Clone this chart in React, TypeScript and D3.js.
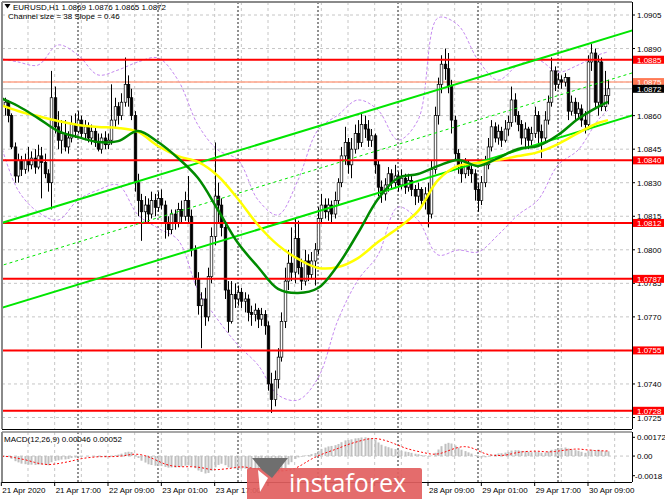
import React, { useEffect } from 'react';
import * as d3 from 'd3';

// ---------- DATA (prices in pips: price * 10000) ----------
const firstOpen = 10866;
const closes = [
  10868, 10864, 10866, 10860, 10846, 10833, 10840, 10836, 10840, 10838,
  10841, 10837, 10842, 10839, 10834, 10830, 10868, 10855, 10849, 10852,
  10846, 10850, 10856, 10853, 10858, 10852, 10855, 10850, 10853, 10848,
  10845, 10850, 10847, 10849, 10858, 10864, 10860, 10866, 10874, 10868,
  10860, 10830, 10822, 10817, 10820, 10816, 10822, 10819, 10823, 10820,
  10812, 10809, 10816, 10812, 10818, 10815, 10822, 10815, 10800, 10787,
  10775, 10778, 10770, 10788, 10806, 10824, 10820, 10810, 10782, 10768,
  10780, 10778, 10781, 10777, 10778, 10772, 10771, 10773, 10769, 10771,
  10766, 10740, 10733, 10742, 10752, 10768, 10786, 10794, 10790, 10805,
  10792, 10786, 10795, 10789, 10795, 10800, 10814, 10820, 10817, 10820,
  10816, 10822, 10830, 10842, 10848, 10838, 10845, 10852, 10848, 10856,
  10854, 10849, 10851, 10838, 10828, 10825, 10829, 10834, 10830, 10833,
  10829, 10832, 10828, 10831, 10827, 10824, 10827, 10822, 10825, 10816,
  10836, 10860, 10874, 10883, 10881, 10873, 10858, 10843, 10838, 10834,
  10838, 10836, 10834, 10827, 10822, 10830, 10838, 10846, 10855, 10850,
  10853, 10849, 10854, 10857, 10867, 10860, 10856, 10850, 10854, 10849,
  10852, 10860, 10853, 10850, 10858, 10866, 10880, 10874, 10876, 10875,
  10877, 10862, 10866, 10861, 10863, 10858, 10856, 10884, 10888, 10866,
  10884, 10864, 10869, 10872,
];
const highs = [
  10870, 10869, 10868, 10867, 10861, 10848, 10843, 10842, 10843, 10846,
  10844, 10845, 10847, 10846, 10843, 10836, 10880, 10873, 10862, 10858,
  10858, 10853, 10860, 10861, 10862, 10860, 10858, 10857, 10856, 10855,
  10852, 10852, 10853, 10852, 10874, 10868, 10866, 10870, 10886, 10878,
  10872, 10862, 10834, 10825, 10824, 10823, 10826, 10825, 10826, 10827,
  10822, 10815, 10818, 10818, 10821, 10822, 10826, 10833, 10818, 10802,
  10790, 10781, 10783, 10792, 10810, 10848, 10830, 10823, 10812, 10786,
  10786, 10785, 10784, 10783, 10781, 10780, 10775, 10776, 10774, 10774,
  10773, 10768, 10745, 10746, 10756, 10772, 10792, 10800, 10810, 10814,
  10813, 10796, 10800, 10798, 10799, 10803, 10819, 10825, 10823, 10823,
  10822, 10826, 10832, 10846, 10855, 10850, 10850, 10856, 10858, 10861,
  10860, 10858, 10854, 10852, 10840, 10831, 10832, 10837, 10836, 10838,
  10835, 10836, 10834, 10834, 10833, 10829, 10830, 10828, 10828, 10830,
  10840, 10864, 10877, 10887, 10890, 10888, 10876, 10860, 10845, 10840,
  10841, 10840, 10838, 10836, 10830, 10833, 10842, 10850, 10858, 10857,
  10856, 10855, 10858, 10860, 10873, 10870, 10862, 10858, 10857, 10855,
  10855, 10864, 10862, 10856, 10862, 10869, 10886, 10882, 10879, 10878,
  10879, 10877, 10869, 10868, 10866, 10865, 10862, 10887, 10892, 10890,
  10887, 10886, 10880, 10876,
];
const lows = [
  10863, 10862, 10860, 10857, 10845, 10830, 10830, 10833, 10834, 10835,
  10836, 10834, 10836, 10823, 10832, 10826, 10818, 10852, 10845, 10843,
  10844, 10843, 10848, 10850, 10852, 10850, 10849, 10848, 10847, 10846,
  10844, 10843, 10845, 10845, 10847, 10855, 10856, 10858, 10864, 10864,
  10858, 10826, 10815, 10804, 10812, 10812, 10814, 10815, 10817, 10818,
  10805, 10806, 10807, 10809, 10810, 10812, 10813, 10812, 10797, 10784,
  10771, 10756, 10766, 10768, 10785, 10802, 10812, 10806, 10778, 10763,
  10767, 10774, 10775, 10774, 10772, 10768, 10766, 10768, 10765, 10766,
  10762, 10737, 10727, 10730, 10738, 10750, 10765, 10782, 10786, 10785,
  10789, 10782, 10784, 10786, 10787, 10784, 10798, 10812, 10814, 10813,
  10812, 10814, 10820, 10828, 10838, 10834, 10832, 10843, 10845, 10846,
  10850, 10846, 10846, 10834, 10824, 10821, 10822, 10826, 10827, 10828,
  10826, 10827, 10825, 10826, 10824, 10820, 10821, 10819, 10818, 10810,
  10814, 10834, 10856, 10870, 10876, 10870, 10852, 10840, 10834, 10830,
  10832, 10833, 10830, 10822, 10817, 10820, 10828, 10836, 10844, 10848,
  10847, 10846, 10848, 10851, 10855, 10857, 10853, 10847, 10845, 10845,
  10846, 10850, 10846, 10841, 10848, 10856, 10864, 10871, 10872, 10872,
  10873, 10858, 10860, 10858, 10859, 10855, 10852, 10854, 10880, 10863,
  10860, 10862, 10862, 10865,
];

const lineBars = [0, 6, 12, 18, 24, 30, 36, 42, 48, 54, 60, 66, 72, 78, 84, 90, 96, 102, 108, 114, 120, 126, 132, 138, 144, 150, 156, 162, 168, 174, 180, 183];
const maGreen = [10868.3, 10864.3, 10858.9, 10853.1, 10850.4, 10848.2, 10848.6, 10853.1, 10848.2, 10841.0, 10832.1, 10817.8, 10803.0, 10792.3, 10782.5, 10780.7, 10782.9, 10793.2, 10807.5, 10822.7, 10832.1, 10833.9, 10837.5, 10840.2, 10837.5, 10841.0, 10845.1, 10846.4, 10851.3, 10858.5, 10863.9, 10866.1];
const maYellow = [10865.2, 10862.1, 10859.8, 10857.6, 10855.8, 10854.9, 10854.5, 10852.7, 10846.4, 10841.9, 10839.3, 10833.0, 10822.7, 10811.1, 10802.1, 10795.9, 10791.9, 10792.3, 10796.3, 10803.5, 10809.7, 10817.3, 10831.2, 10837.5, 10838.8, 10840.2, 10841.9, 10843.7, 10847.3, 10852.2, 10856.7, 10858.0];
const bandUpper = [10885.8, 10884.0, 10882.6, 10891.6, 10887.1, 10878.2, 10880.4, 10884.0, 10885.8, 10875.9, 10855.8, 10844.6, 10840.2, 10822.3, 10815.6, 10831.2, 10853.6, 10860.3, 10867.0, 10862.5, 10849.1, 10858.0, 10903.7, 10900.5, 10884.9, 10875.9, 10882.6, 10884.9, 10879.5, 10882.6, 10887.1, 10888.5];
const bandLower = [10851.3, 10826.7, 10816.9, 10813.3, 10822.3, 10826.7, 10829.0, 10815.6, 10809.7, 10804.4, 10782.0, 10768.6, 10757.4, 10748.5, 10735.1, 10732.8, 10742.7, 10768.6, 10786.5, 10797.7, 10819.1, 10813.3, 10797.7, 10799.9, 10799.0, 10806.6, 10815.6, 10822.3, 10837.9, 10844.6, 10858.0, 10862.5];

// channel (regression channel, pips at bar 0 and bar 192)
const channelBars = [0, 192];
const channelUpper = [10811.5, 10898.9];
const channelMiddle = [10792.5, 10879.9];
const channelLower = [10773.5, 10860.9];

const levels = [1.0885, 1.0840, 1.0812, 1.0787, 1.0755, 1.0728];
const askLevel = 1.0875;
const bidLevel = 1.0872;
const priceTicks = [1.0905, 1.0890, 1.0875, 1.0860, 1.0845, 1.0830, 1.0815, 1.0800, 1.0785, 1.0770, 1.0755, 1.0740, 1.0725];
// visible time labels (those under the watermark are not shown in the reference)
const timeLabelBars = [1, 17, 33, 49, 65, 129, 145, 161, 177];
const timeLabels = ['21 Apr 2020', '21 Apr 17:00', '22 Apr 09:00', '23 Apr 01:00', '23 Apr 17:00', '28 Apr 09:00', '29 Apr 01:00', '29 Apr 17:00', '30 Apr 09:00'];
const timeTickBars = [1, 17, 33, 49, 65, 81, 97, 113, 129, 145, 161, 177];
const daySepBars = [24, 48, 72, 96, 120, 144, 168];
const macdTicks = [0.00172, 0, -0.0018];
const macdTickLabels = ['0.00172', '0.00', '-0.0018'];
const titleText = 'EURUSD,H1  1.0869 1.0876 1.0865 1.0872';
const channelText = 'Channel size = 38 Slope = 0.46';
const macdText = 'MACD(12,26,9) 0.00046 0.00052';
const logoText = 'instaforex';

// ---------- LAYOUT ----------
const W = 665, H = 499;
const L = 2, R = 632, T = 2, B = 429;
const MT = 432, MB = 482;
const FONT = '"Liberation Sans", Arial, sans-serif';

function ema(v: number[], n: number) {
  const a = 2 / (n + 1);
  const out: number[] = [];
  v.forEach((d, i) => out.push(i === 0 ? d : a * d + (1 - a) * out[i - 1]));
  return out;
}

export default function App() {
  useEffect(() => { document.body.style.margin = '0'; }, []);

  const bars = closes.map((c, i) => {
    const o = i === 0 ? firstOpen : closes[i - 1];
    return {
      i, o: o / 1e4, c: c / 1e4,
      h: Math.max(highs[i], o, c) / 1e4,
      l: Math.min(lows[i], o, c) / 1e4,
    };
  });

  const x = d3.scaleLinear().domain([0, 183]).range([-2, 608]);
  const y = d3.scaleLinear().domain([1.0725, 1.0905]).range([417.5, 15]);
  const ym = d3.scaleLinear().domain([-0.0018, 0.00172]).range([475.7, 437.3]);

  const cl = bars.map(b => b.c);
  const e12 = ema(cl, 12), e26 = ema(cl, 26);
  const macd = cl.map((_, i) => e12[i] - e26[i]);
  const signal = macd.map((_, i) => d3.mean(macd.slice(Math.max(0, i - 8), i + 1)) as number);

  const smooth = (vals: number[]) =>
    d3.line<number>().x((_, i) => x(lineBars[i])).y(v => y(v / 1e4)).curve(d3.curveCatmullRom.alpha(0.5))(vals) || '';
  const chan = (vals: number[]) =>
    d3.line<number>().x((_, i) => x(channelBars[i])).y(v => y(v / 1e4))(vals) || '';
  const sigPath = d3.line<number>().x((_, i) => x(i)).y(v => ym(v))(signal) || '';

  const vGrid = d3.range(0, 24).map(k => 1.33 + k * 26.667).filter(v => v > L + 1 && v < R);
  const fmt = d3.format('.4f');
  const labelled = [...levels, askLevel, bidLevel];
  const visibleTicks = priceTicks.filter(p => !labelled.some(q => Math.abs(q - p) < 1e-6));

  return (
    <svg width={W} height={H} style={{ position: 'absolute', left: 0, top: 0, background: '#fff' }} fontFamily={FONT}>
      <defs>
        <clipPath id="main"><rect x={L} y={T} width={R - L} height={B - T} /></clipPath>
        <clipPath id="macd"><rect x={L} y={MT} width={R - L} height={MB - MT} /></clipPath>
      </defs>
      <rect x={0} y={0} width={W} height={H} fill="#fff" />

      <g clipPath="url(#main)">
        {priceTicks.map(p => (
          <line key={p} x1={L} x2={R} y1={y(p)} y2={y(p)} stroke="#c6c6c6" strokeDasharray="3,3" />
        ))}
        {vGrid.map(v => (
          <line key={v} x1={v} x2={v} y1={T} y2={B} stroke="#c6c6c6" strokeDasharray="3,3" />
        ))}
        {daySepBars.map(b => (
          <line key={b} x1={x(b)} x2={x(b)} y1={T} y2={B} stroke="#222" strokeDasharray="2,2" />
        ))}
        <path d={smooth(bandUpper)} fill="none" stroke="#c58af0" strokeWidth={1} strokeDasharray="3,2" />
        <path d={smooth(bandLower)} fill="none" stroke="#c58af0" strokeWidth={1} strokeDasharray="3,2" />
        <line x1={L} x2={R} y1={y(askLevel)} y2={y(askLevel)} stroke="#ffa58a" strokeWidth={1.5} />
        <line x1={L} x2={R} y1={y(bidLevel)} y2={y(bidLevel)} stroke="#bdbdbd" strokeWidth={1} />
        {bars.map(b => {
          const up = b.c >= b.o;
          const top = y(Math.max(b.o, b.c)), bot = y(Math.min(b.o, b.c));
          const cx = Math.round(x(b.i)) + 0.5;
          return (
            <g key={b.i}>
              <line x1={cx} x2={cx} y1={y(b.h)} y2={y(b.l)} stroke="#000" strokeWidth={1} />
              <rect x={cx - 1.3} y={top} width={2.6} height={Math.max(0.8, bot - top)}
                fill={up ? '#fff' : '#000'} stroke="#000" strokeWidth={0.7} />
            </g>
          );
        })}
        {levels.map(p => (
          <line key={p} x1={L} x2={R} y1={y(p)} y2={y(p)} stroke="#ff0000" strokeWidth={2} />
        ))}
        <path d={chan(channelUpper)} stroke="#00e600" strokeWidth={2} fill="none" />
        <path d={chan(channelLower)} stroke="#00e600" strokeWidth={2} fill="none" />
        <path d={chan(channelMiddle)} stroke="#00e600" strokeWidth={1} strokeDasharray="3,3" fill="none" />
        <path d={smooth(maYellow)} stroke="#ffff00" strokeWidth={2.5} fill="none" />
        <path d={smooth(maGreen)} stroke="#008a00" strokeWidth={2.5} fill="none" />
      </g>

      <line x1={L} x2={R} y1={T} y2={T} stroke="#8a8a8a" strokeWidth={2} />
      <line x1={L} x2={L} y1={T} y2={B} stroke="#8a8a8a" strokeWidth={2} />
      <line x1={R + 0.5} x2={R + 0.5} y1={T} y2={B} stroke="#000" />
      <line x1={L} x2={R} y1={B + 0.5} y2={B + 0.5} stroke="#000" />

      {priceTicks.map(p => (
        <line key={p} x1={R} x2={R + 3} y1={y(p)} y2={y(p)} stroke="#000" />
      ))}
      {visibleTicks.map(p => (
        <text key={p} x={637} y={y(p) + 3} fontSize={8} fill="#000">{fmt(p)}</text>
      ))}
      {levels.map(p => (
        <g key={p}>
          <rect x={633} y={y(p) - 4} width={31} height={8} fill="#ff0000" />
          <text x={637} y={y(p) + 3} fontSize={8} fill="#fff">{fmt(p)}</text>
        </g>
      ))}
      <rect x={633} y={y(askLevel) - 4} width={31} height={8} fill="#ff7a55" />
      <text x={637} y={y(askLevel) + 3} fontSize={8} fill="#fff">{fmt(askLevel)}</text>
      <rect x={633} y={y(bidLevel) - 4} width={31} height={8} fill="#000" />
      <text x={637} y={y(bidLevel) + 3} fontSize={8} fill="#fff">{fmt(bidLevel)}</text>

      <path d="M4.5,4 L10.5,4 L7.5,8.5 Z" fill="#000" />
      <text x={13} y={9.5} fontSize={8} fill="#000">{titleText}</text>
      <text x={8} y={18.5} fontSize={8} fill="#000">{channelText}</text>

      <g clipPath="url(#macd)">
        <line x1={L} x2={R} y1={ym(0)} y2={ym(0)} stroke="#c6c6c6" strokeDasharray="3,3" />
        {vGrid.map(v => (
          <line key={v} x1={v} x2={v} y1={MT} y2={MB} stroke="#c6c6c6" strokeDasharray="3,3" />
        ))}
        {daySepBars.map(b => (
          <line key={b} x1={x(b)} x2={x(b)} y1={MT} y2={MB} stroke="#222" strokeDasharray="2,2" />
        ))}
        {macd.map((m, i) => (
          <rect key={i} x={Math.round(x(i)) - 0.5} width={2}
            y={Math.min(ym(m), ym(0))} height={Math.abs(ym(m) - ym(0))} fill="#c0c0c0" />
        ))}
        <path d={sigPath} fill="none" stroke="#ff0000" strokeWidth={1} strokeDasharray="2,2" />
      </g>
      <text x={4} y={442} fontSize={8} fill="#000">{macdText}</text>
      <line x1={L} x2={R} y1={MT} y2={MT} stroke="#8a8a8a" strokeWidth={1.5} />
      <line x1={L} x2={L} y1={MT} y2={MB} stroke="#8a8a8a" strokeWidth={2} />
      <line x1={R + 0.5} x2={R + 0.5} y1={MT} y2={MB} stroke="#000" />
      <line x1={L} x2={R} y1={MB + 0.5} y2={MB + 0.5} stroke="#000" />
      {macdTicks.map((v, i) => (
        <g key={v}>
          <line x1={R} x2={R + 3} y1={ym(v)} y2={ym(v)} stroke="#000" />
          <text x={i === 2 ? 635 : 637} y={ym(v) + 3} fontSize={8} fill="#000">{macdTickLabels[i]}</text>
        </g>
      ))}

      {timeTickBars.map(b => (
        <line key={b} x1={x(b)} x2={x(b)} y1={MB} y2={MB + 4} stroke="#000" />
      ))}
      {timeLabelBars.map((b, i) => (
        <text key={b} x={x(b) + 1} y={493} fontSize={8} fill="#000">{timeLabels[i]}</text>
      ))}

      <g>
        <rect x={247} y={468} width={175} height={34} rx={2} fill="#e2605f" opacity={0.92} />
        <path d="M252,458 L288,458 L272,478 L262,470 Z" fill="#6f6f6f" />
        <path d="M258,470 L268,478 L260,492 Z" fill="#ffffff" />
        <text x={289} y={492} fontSize={25} fill="#fff" fontFamily='"Open Sans", sans-serif'>{logoText}</text>
      </g>
    </svg>
  );
}
